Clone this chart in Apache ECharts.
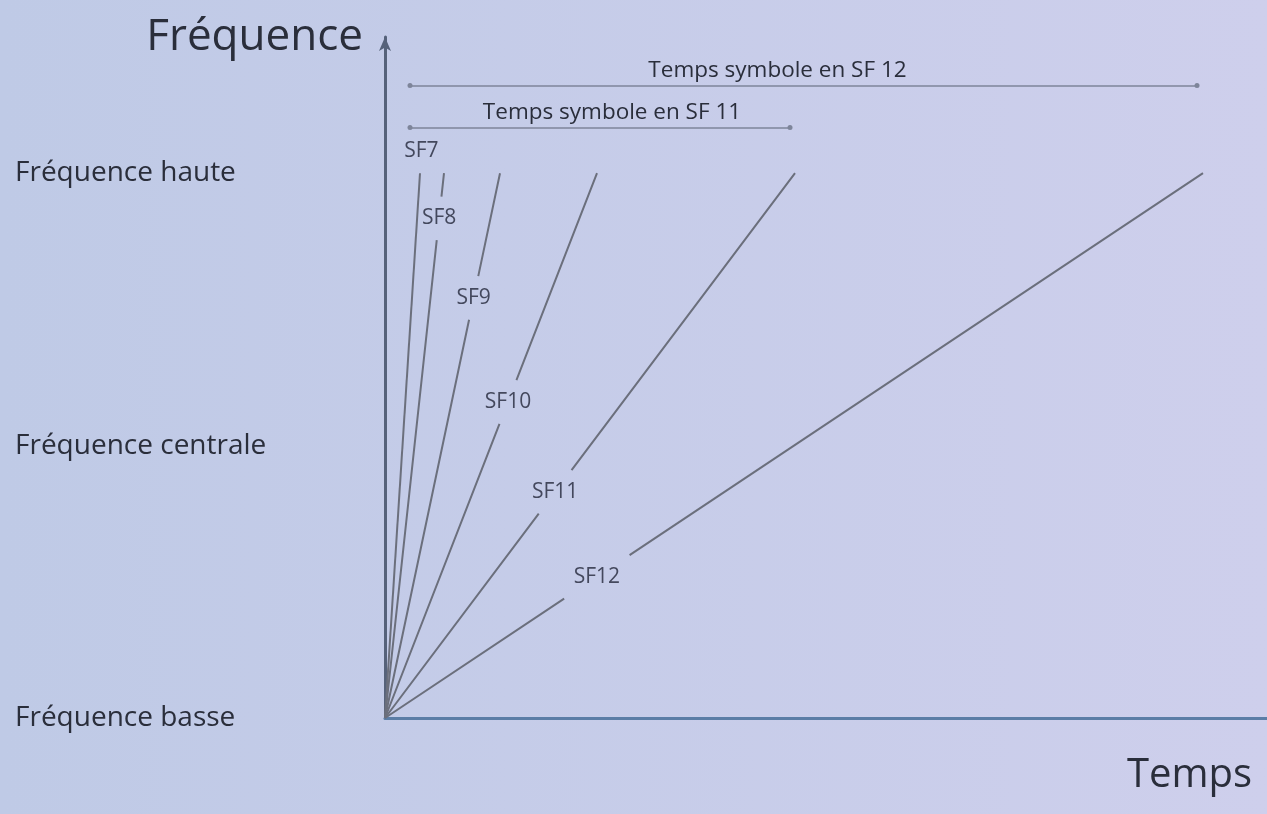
<!DOCTYPE html>
<html>
<head>
<meta charset="utf-8">
<script src="https://cdn.jsdelivr.net/npm/echarts@6/dist/echarts.min.js"></script>
<style>
  html, body { margin: 0; padding: 0; }
  #main { width: 1267px; height: 814px; }
</style>
</head>
<body>
<div id="main"></div>
<script>
// spreading factors and the time each chirp takes to sweep the band
var sfNames = ['SF7', 'SF8', 'SF9', 'SF10', 'SF11', 'SF12'];
var symbolTimes = [35, 59, 115, 212, 410, 818];
// height (fraction of the band) where each SF label sits on its line
var labelLevels = [1.04, 0.917, 0.771, 0.58, 0.415, 0.259];

var freqTicks = [0, 0.5, 1];
var freqLabels = ['Fréquence basse', 'Fréquence centrale', 'Fréquence haute'];

var dimLabels = ['Temps symbole en SF 12', 'Temps symbole en SF 11'];
var dimStart = [25, 25];
var dimEnd = [812, 405];
var dimLevel = [1.161, 1.084];

var FONT = '"Open Sans", "Noto Sans", sans-serif';
var TEXT = '#2a2e3b';
var LINE = '#6b6f7c';
var GAP = 0.04;

var myChart = echarts.init(document.getElementById('main'));

function chirpData(t, level) {
	// line from origin to top, broken where the label sits
	if (level + GAP >= 1) {
		return [[0, 0], [t, 1]];
	}
	var lo = level - GAP, hi = level + GAP;
	return [[0, 0], [t * lo, lo], ['-', '-'], [t * hi, hi], [t, 1]];
}

var series = [];
var i;
for (i = 0; i < sfNames.length; i++) {
	series.push({
		name: sfNames[i],
		type: 'line',
		data: chirpData(symbolTimes[i], labelLevels[i]),
		showSymbol: false,
		connectNulls: false,
		lineStyle: { color: LINE, width: 2 },
		silent: true
	});
}

// SF labels
var labelPoints = [];
for (i = 0; i < sfNames.length; i++) {
	labelPoints.push({ name: sfNames[i], value: [symbolTimes[i] * labelLevels[i], labelLevels[i]] });
}
series.push({
	type: 'scatter',
	data: labelPoints,
	symbolSize: 0,
	silent: true,
	z: 5,
	label: {
		show: true,
		position: 'inside',
		formatter: '{b}',
		fontFamily: FONT,
		fontSize: 21,
		color: '#23273a'
	}
});

// symbol time dimension lines
var dimShift = [-26, 12];
for (i = 0; i < dimLabels.length; i++) {
	series.push({
		type: 'line',
		data: [],
		silent: true,
		markLine: {
			silent: true,
			symbol: ['circle', 'circle'],
			symbolSize: 5,
			lineStyle: { color: '#7e859a', width: 1.5, type: 'solid' },
			label: {
				show: true,
				position: 'insideMiddleTop',
				formatter: '{b}',
				fontFamily: FONT,
				fontSize: 22.5,
				color: TEXT,
				distance: 3,
				offset: [dimShift[i], 0]
			},
			data: [[
				{ coord: [dimStart[i], dimLevel[i]], name: dimLabels[i] },
				{ coord: [dimEnd[i], dimLevel[i]] }
			]]
		}
	});
}

var option = {
	backgroundColor: new echarts.graphic.LinearGradient(0, 0, 1, 0, [
		{ offset: 0, color: '#bfcae6' },
		{ offset: 1, color: '#cecfec' }
	]),
	animation: false,
	grid: { left: 385, right: 0, top: 37, bottom: 96 },
	xAxis: {
		type: 'value',
		min: 0,
		max: 882,
		name: 'Temps',
		nameLocation: 'end',
		nameGap: -15,
		nameTextStyle: {
			fontFamily: FONT,
			fontSize: 40,
			color: TEXT,
			align: 'right',
			verticalAlign: 'top',
			padding: [38, 0, 0, 0]
		},
		axisLine: { show: true, lineStyle: { color: '#5b7da6', width: 3 } },
		axisTick: { show: false },
		axisLabel: { show: false },
		splitLine: { show: false }
	},
	yAxis: {
		type: 'value',
		min: 0,
		max: 1.25,
		interval: 0.5,
		name: 'Fréquence',
		nameLocation: 'end',
		nameGap: 0,
		nameTextStyle: {
			fontFamily: FONT,
			fontSize: 44,
			color: TEXT,
			align: 'right',
			verticalAlign: 'middle',
			padding: [6, 22, 0, 0]
		},
		axisLine: {
			show: true,
			symbol: ['none', 'arrow'],
			symbolSize: [9, 14],
			lineStyle: { color: '#56627a', width: 3 }
		},
		axisTick: { show: false },
		splitLine: { show: false },
		axisLabel: {
			showMaxLabel: false,
			align: 'left',
			margin: 370,
			fontFamily: FONT,
			fontSize: 28,
			color: TEXT,
			formatter: function (v) {
				var idx = freqTicks.indexOf(v);
				return idx >= 0 ? freqLabels[idx] : '';
			}
		}
	},
	series: series
};

myChart.setOption(option);
</script>
</body>
</html>
